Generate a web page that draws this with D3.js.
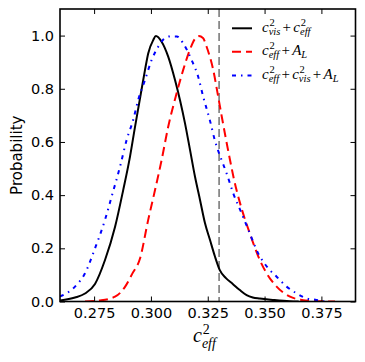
<!DOCTYPE html>
<html>
<head>
<meta charset="utf-8">
<script src="https://cdn.jsdelivr.net/npm/d3@7"></script>
<style>
  body { margin: 0; background: #fff; }
  svg { display: block; }
</style>
</head>
<body>
<div id="chart"></div>
<script>
// c_vis^2 + c_eff^2 (black, solid)
const visEffX = [0.2600, 0.2666, 0.2710, 0.2754, 0.2798, 0.2842, 0.2878, 0.2908, 0.2930, 0.2952, 0.2974, 0.2988, 0.3010,
  0.3022, 0.3047, 0.3076, 0.3106, 0.3128, 0.3150, 0.3172, 0.3194, 0.3216, 0.3238, 0.3260, 0.3281, 0.3303, 0.3330,
  0.3360, 0.3391, 0.3421, 0.3448, 0.3479, 0.3536, 0.3610, 0.3650];
const visEffP = [0.004, 0.015, 0.030, 0.066, 0.156, 0.280, 0.419, 0.545, 0.657, 0.764, 0.871, 0.933, 0.983,
  0.998, 0.977, 0.921, 0.833, 0.757, 0.670, 0.570, 0.469, 0.382, 0.294, 0.231, 0.171, 0.118, 0.088,
  0.066, 0.043, 0.024, 0.015, 0.011, 0.006, 0.001, 0.0];

// c_eff^2 + A_L (red, dashed)
const effAlX = [0.2710, 0.2776, 0.2842, 0.2886, 0.2917, 0.2952, 0.2988, 0.3018, 0.3047, 0.3076, 0.3113, 0.3142, 0.3171,
  0.3193, 0.3211, 0.3229, 0.3245, 0.3274, 0.3296, 0.3312, 0.3330, 0.3348, 0.3366, 0.3392, 0.3435, 0.3479, 0.3509,
  0.3553, 0.3612, 0.3664, 0.3714, 0.3810];
const effAlP = [0.0, 0.004, 0.018, 0.055, 0.103, 0.162, 0.307, 0.419, 0.532, 0.657, 0.783, 0.871, 0.946,
  0.987, 0.998, 0.991, 0.958, 0.871, 0.770, 0.694, 0.611, 0.532, 0.457, 0.370, 0.256, 0.156, 0.106,
  0.056, 0.018, 0.006, 0.002, 0.0];

// c_eff^2 + c_vis^2 + A_L (blue, dash-dot)
const allX = [0.2600, 0.2629, 0.2666, 0.2710, 0.2754, 0.2798, 0.2827, 0.2864, 0.2893, 0.2922, 0.2944, 0.2974, 0.3003,
  0.3032, 0.3057, 0.3084, 0.3114, 0.3142, 0.3179, 0.3208, 0.3230, 0.3259, 0.3281, 0.3311, 0.3333, 0.3362, 0.3399,
  0.3435, 0.3472, 0.3516, 0.3553, 0.3597, 0.3640, 0.3684, 0.3728, 0.3765];
const allP = [0.019, 0.031, 0.056, 0.106, 0.200, 0.307, 0.394, 0.507, 0.607, 0.683, 0.758, 0.833, 0.908,
  0.958, 0.987, 0.997, 0.997, 0.971, 0.908, 0.845, 0.770, 0.683, 0.607, 0.532, 0.482, 0.407, 0.332,
  0.256, 0.181, 0.125, 0.093, 0.056, 0.031, 0.012, 0.006, 0.0];

const markerX = 0.33;

const xTicks = [0.275, 0.300, 0.325, 0.350, 0.375];
const yTicks = [0.0, 0.2, 0.4, 0.6, 0.8, 1.0];

const width = 365, height = 362;
const pLeft = 60, pRight = 355.5, pTop = 9, pBottom = 301.5;

const svg = d3.select("#chart").append("svg")
  .attr("width", width)
  .attr("height", height);

const x = d3.scaleLinear().domain([0.26, 0.39]).range([pLeft, pRight]);
const y = d3.scaleLinear().domain([0, 1.1]).range([pBottom, pTop]);

svg.append("clipPath").attr("id", "clip")
  .append("rect")
  .attr("x", pLeft).attr("y", pTop)
  .attr("width", pRight - pLeft).attr("height", pBottom - pTop);

const plot = svg.append("g").attr("clip-path", "url(#clip)");

const line = d3.line()
  .x(d => x(d[0]))
  .y(d => y(d[1]))
  .curve(d3.curveMonotoneX);

const series = [
  { xs: visEffX, ps: visEffP, color: "#000000", dash: null },
  { xs: effAlX, ps: effAlP, color: "#ff0000", dash: "9,5" },
  { xs: allX, ps: allP, color: "#0000ff", dash: "4,5,1.5,5" }
];

// vertical marker
plot.append("line")
  .attr("x1", x(markerX)).attr("x2", x(markerX))
  .attr("y1", pTop).attr("y2", pBottom)
  .attr("stroke", "#888")
  .attr("stroke-width", 1.8)
  .attr("stroke-dasharray", "8,4");

series.forEach(s => {
  plot.append("path")
    .datum(s.xs.map((v, i) => [v, s.ps[i]]))
    .attr("fill", "none")
    .attr("stroke", s.color)
    .attr("stroke-width", 2)
    .attr("stroke-dasharray", s.dash)
    .attr("d", line);
});

// axes: ticks inside, on all four sides
const tickLen = 5;
const fmtX = d3.format(".3f"), fmtY = d3.format(".1f");

const axB = svg.append("g").attr("transform", `translate(0,${pBottom})`)
  .call(d3.axisBottom(x).tickValues(xTicks).tickSizeInner(-tickLen).tickSizeOuter(0).tickPadding(6).tickFormat(fmtX));
const axT = svg.append("g").attr("transform", `translate(0,${pTop})`)
  .call(d3.axisTop(x).tickValues(xTicks).tickSizeInner(-tickLen).tickSizeOuter(0).tickFormat(""));
const axL = svg.append("g").attr("transform", `translate(${pLeft},0)`)
  .call(d3.axisLeft(y).tickValues(yTicks).tickSizeInner(-tickLen).tickSizeOuter(0).tickPadding(6).tickFormat(fmtY));
const axR = svg.append("g").attr("transform", `translate(${pRight},0)`)
  .call(d3.axisRight(y).tickValues(yTicks).tickSizeInner(-tickLen).tickSizeOuter(0).tickFormat(""));

[axB, axT, axL, axR].forEach(a => {
  a.select(".domain").remove();
  a.selectAll(".tick line").attr("stroke", "#000").attr("stroke-width", 1);
  a.selectAll("text")
    .attr("font-family", "DejaVu Sans")
    .attr("font-size", 14.5)
    .attr("fill", "#000");
});

svg.append("rect")
  .attr("x", pLeft).attr("y", pTop)
  .attr("width", pRight - pLeft).attr("height", pBottom - pTop)
  .attr("fill", "none")
  .attr("stroke", "#000")
  .attr("stroke-width", 1.6);

svg.append("text")
  .attr("transform", `translate(22,${(pTop + pBottom) / 2}) rotate(-90)`)
  .attr("text-anchor", "middle")
  .attr("font-family", "DejaVu Sans")
  .attr("font-size", 15)
  .text("Probability");

// math-like label: tokens {b: base, sup, sub, up} drawn left to right
function mathText(g, x0, y0, tokens, size, supUp, subDown) {
  let cx = x0;
  const fam = "Liberation Serif";
  const small = size * 0.7;
  tokens.forEach(tk => {
    if (tk.up) cx += size * 0.15;
    const t = g.append("text")
      .attr("x", cx).attr("y", y0)
      .attr("font-family", fam)
      .attr("font-style", tk.up ? "normal" : "italic")
      .attr("font-size", size)
      .text(tk.b);
    cx += t.node().getComputedTextLength();
    if (tk.up) cx += size * 0.15;
    let w = 0;
    if (tk.sup) {
      const s = g.append("text")
        .attr("x", cx + 0.8).attr("y", y0 - size * supUp)
        .attr("font-family", fam)
        .attr("font-size", small)
        .text(tk.sup);
      w = Math.max(w, s.node().getComputedTextLength() + 0.8);
    }
    if (tk.sub) {
      const s = g.append("text")
        .attr("x", cx).attr("y", y0 + size * subDown)
        .attr("font-family", fam)
        .attr("font-style", "italic")
        .attr("font-size", small)
        .text(tk.sub);
      w = Math.max(w, s.node().getComputedTextLength());
    }
    cx += w;
  });
  return cx;
}

// legend
const legendItems = [
  { color: "#000000", dash: null, tokens: [{ b: "c", sup: "2", sub: "vis" }, { b: "+", up: true }, { b: "c", sup: "2", sub: "eff" }] },
  { color: "#ff0000", dash: "9,5", tokens: [{ b: "c", sup: "2", sub: "eff" }, { b: "+", up: true }, { b: "A", sub: "L" }] },
  { color: "#0000ff", dash: "4,5,1.5,5", tokens: [{ b: "c", sup: "2", sub: "eff" }, { b: "+", up: true }, { b: "c", sup: "2", sub: "vis" }, { b: "+", up: true }, { b: "A", sub: "L" }] }
];
const legendY = [28.3, 51.7, 75.5];

const legend = svg.append("g");
legendItems.forEach((it, i) => {
  legend.append("line")
    .attr("x1", 232).attr("x2", 252)
    .attr("y1", legendY[i]).attr("y2", legendY[i])
    .attr("stroke", it.color)
    .attr("stroke-width", 2)
    .attr("stroke-dasharray", it.dash);
  mathText(legend, 262, legendY[i] + 3.4, it.tokens, 15, 0.38, 0.2);
});

// x label
const xl = svg.append("g");
mathText(xl, 193, 342, [{ b: "c", sup: "2", sub: "eff" }], 20, 0.42, 0.3);
</script>
</body>
</html>
